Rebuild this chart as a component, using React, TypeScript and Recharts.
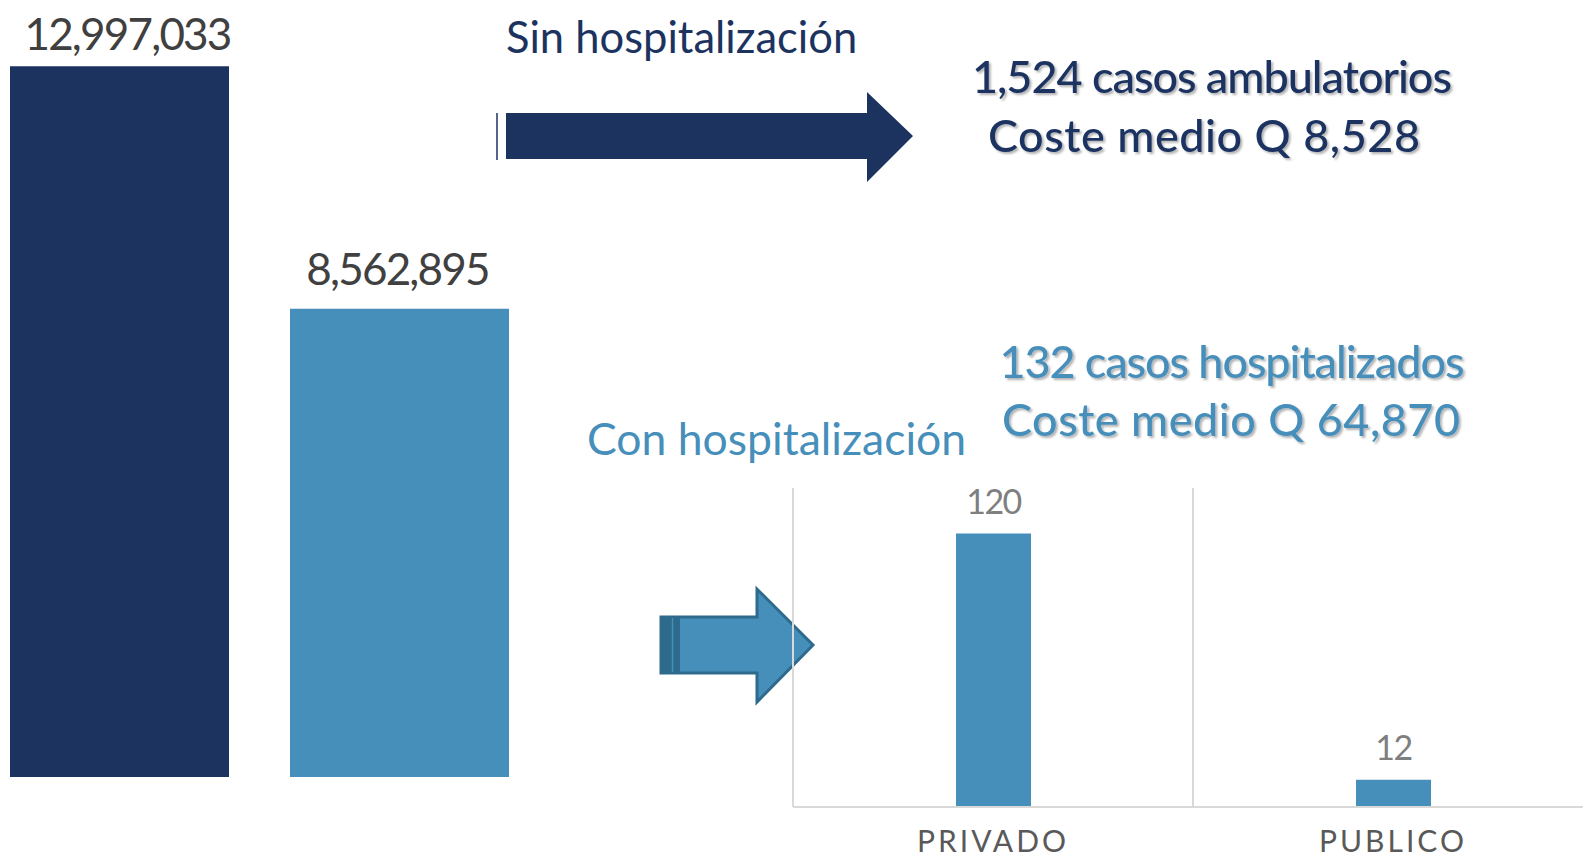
import React from 'react';
import { BarChart, Bar, XAxis, YAxis, CartesianGrid, LabelList, Cell } from 'recharts';

// total cost per group (left chart)
const costCategories = ['Sin hospitalización', 'Con hospitalización'];
const costValues = [12997033, 8562895];

// hospitalized cases by sector (right chart)
const sectorCategories = ['PRIVADO', 'PUBLICO'];
const sectorCases = [120, 12];

// annotation text
const ambulatoryLines = ['1,524 casos ambulatorios', 'Coste medio Q 8,528'];
const hospitalLines = ['132 casos hospitalizados', 'Coste medio Q 64,870'];

const NAVY = '#1C3360';
const BLUE = '#468FBA';
const BLUE_DARK = '#2E6A8C';
const FONT = 'Lato, "Open Sans", sans-serif';

const costColors = [NAVY, BLUE];
const costLabelGap = [16, 24];
const costLabelShift = [8, -2];

const costData = costCategories.map((name, i) => ({ name, value: costValues[i] }));
const sectorData = sectorCategories.map((name, i) => ({ name, cases: sectorCases[i] }));

const CostLabel = (props: any) => {
  const vb = props.viewBox || props;
  const i = costValues.indexOf(Number(props.value));
  return (
    <text
      x={vb.x + vb.width / 2 + (costLabelShift[i] ?? 0)}
      y={vb.y - (costLabelGap[i] ?? 20)}
      textAnchor="middle"
      fill="#404040"
      fontSize={44}
      letterSpacing={-1.8}
      fontFamily={FONT}
    >
      {Number(props.value).toLocaleString('en-US')}
    </text>
  );
};

const CasesLabel = (props: any) => {
  const vb = props.viewBox || props;
  return (
    <text
      x={vb.x + vb.width / 2}
      y={vb.y - 20}
      textAnchor="middle"
      fill="#7F7F7F"
      fontSize={34}
      letterSpacing={-1.5}
      fontFamily={FONT}
    >
      {props.value}
    </text>
  );
};

const SectorTick = (props: any) => {
  const { x, y, payload } = props;
  return (
    <text x={x} y={y + 37} textAnchor="middle" fill="#595959" fontSize={30} letterSpacing={3} fontFamily={FONT}>
      {payload.value}
    </text>
  );
};

const Annotations = () => (
  <svg width={1583} height={857} style={{ position: 'absolute', left: 0, top: 0 }}>
    <defs>
      <filter id="txtShadow" x="-5%" y="-20%" width="110%" height="150%">
        <feDropShadow dx="2" dy="2" stdDeviation="1.2" floodColor="#000" floodOpacity="0.3" />
      </filter>
    </defs>

    {/* navy arrow */}
    <line x1={497} y1={113} x2={497} y2={160} stroke={NAVY} strokeWidth={1.5} />
    <polygon points="506,113 867,113 867,92 913,136 867,182 867,159 506,159" fill={NAVY} />

    {/* striped blue arrow */}
    <polygon
      points="661,617 757,617 757,589 813,645 757,702 757,673 661,673"
      fill={BLUE}
      stroke={BLUE_DARK}
      strokeWidth={3}
      strokeLinejoin="miter"
    />
    <rect x={661} y={617} width={19} height={56} fill={BLUE_DARK} />
    <line x1={672.5} y1={618} x2={672.5} y2={672} stroke={BLUE} strokeWidth={1.5} />

    <text x={506} y={53} fill={NAVY} fontSize={43.5} fontFamily={FONT}>
      {costCategories[0]}
    </text>
    <text x={587} y={455} fill={BLUE} fontSize={44.5} fontFamily={FONT}>
      {costCategories[1]}
    </text>

    <g filter="url(#txtShadow)" fontFamily={FONT} fontSize={45} fontWeight={500} textAnchor="middle">
      <text x={1212} y={93} fill={NAVY} textLength={480} lengthAdjust="spacing">{ambulatoryLines[0]}</text>
      <text x={1204} y={152} fill={NAVY} textLength={432} lengthAdjust="spacing">{ambulatoryLines[1]}</text>
      <text x={1232} y={378} fill={BLUE} textLength={465} lengthAdjust="spacing">{hospitalLines[0]}</text>
      <text x={1231} y={436} fill={BLUE} textLength={458} lengthAdjust="spacing">{hospitalLines[1]}</text>
    </g>
  </svg>
);

export default function App() {
  return (
    <div
      style={{
        position: 'fixed',
        left: 0,
        top: 0,
        width: 1583,
        height: 857,
        overflow: 'hidden',
        background: '#fff',
        fontFamily: FONT,
      }}
    >
      <Annotations />

      <BarChart
        width={560}
        height={857}
        data={costData}
        margin={{ top: 66, right: 0, bottom: 80, left: 0 }}
        style={{ position: 'absolute', left: -21, top: 0 }}
      >
        <XAxis dataKey="name" hide />
        <YAxis hide domain={[0, 13000000]} />
        <Bar dataKey="value" barSize={219} isAnimationActive={false}>
          {costData.map((d, i) => (
            <Cell key={d.name} fill={costColors[i]} />
          ))}
          <LabelList dataKey="value" content={CostLabel} />
        </Bar>
      </BarChart>

      <BarChart
        width={820}
        height={857}
        data={sectorData}
        margin={{ top: 488, right: 10, bottom: 0, left: 10 }}
        style={{ position: 'absolute', left: 783, top: 0 }}
      >
        <CartesianGrid
          horizontal={false}
          stroke="#D9D9D9"
          strokeWidth={2}
          verticalCoordinatesGenerator={(args: any) => [args.offset.left, args.offset.left + args.offset.width / 2]}
        />
        <XAxis
          dataKey="name"
          height={50}
          axisLine={{ stroke: '#D9D9D9', strokeWidth: 2 }}
          tickLine={false}
          tick={<SectorTick />}
          interval={0}
        />
        <YAxis hide domain={[0, 140]} />
        <Bar dataKey="cases" fill={BLUE} barSize={75} isAnimationActive={false}>
          <LabelList dataKey="cases" content={CasesLabel} />
        </Bar>
      </BarChart>
    </div>
  );
}
